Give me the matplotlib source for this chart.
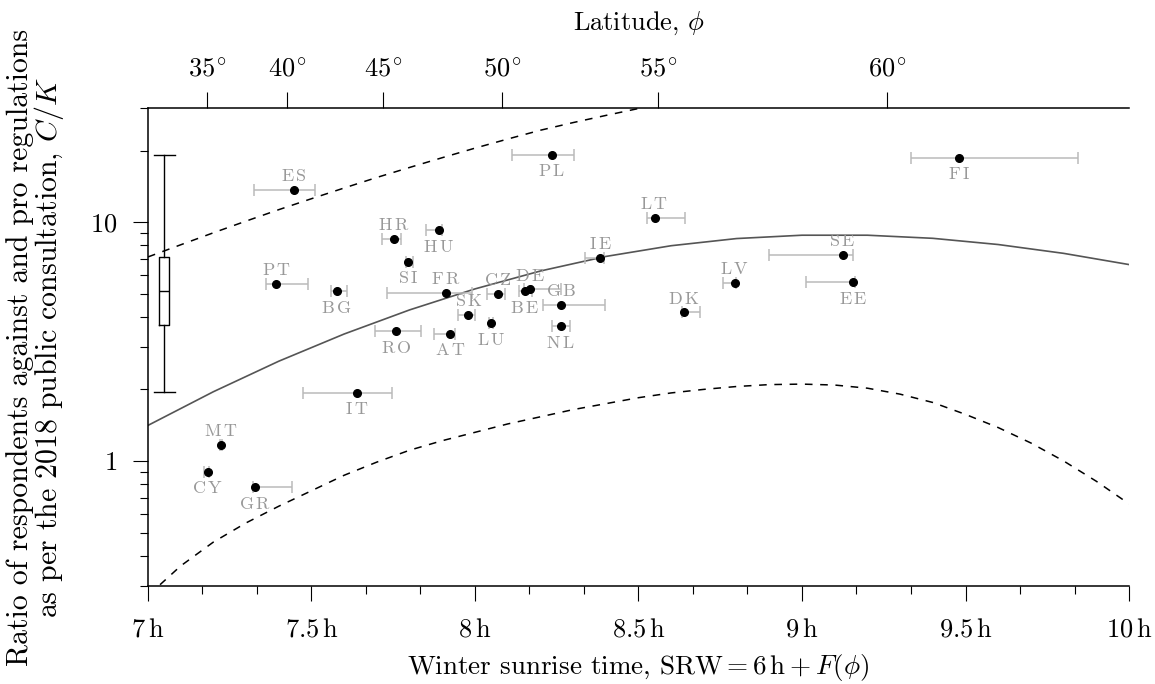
import numpy as np
import matplotlib
matplotlib.use("Agg")
import matplotlib.pyplot as plt
from matplotlib.ticker import MultipleLocator, LogLocator, NullFormatter, NullLocator

plt.rcParams["font.family"] = ["cmr10", "DejaVu Serif"]
plt.rcParams["mathtext.fontset"] = "cm"
plt.rcParams["axes.unicode_minus"] = False
plt.rcParams["axes.formatter.use_mathtext"] = True

# ---- country data ----
codes = ["AT", "BE", "BG", "CY", "CZ", "DE", "DK", "EE", "ES", "FI", "FR", "GB", "GR", "HR",
         "HU", "IE", "IT", "LT", "LU", "LV", "MT", "NL", "PL", "PT", "RO", "SE", "SI", "SK"]
srw = [7.925, 8.153, 7.577, 7.183, 8.071, 8.168, 8.638, 9.156, 7.446, 9.480, 7.911, 8.263, 7.327, 7.752,
       7.889, 8.383, 7.638, 8.549, 8.049, 8.795, 7.223, 8.262, 8.235, 7.392, 7.759, 9.124, 7.795, 7.980]
srw_lo = [7.875, 8.135, 7.559, 7.172, 8.036, 8.150, 8.632, 9.012, 7.324, 9.332, 7.732, 8.209, 7.322, 7.716,
          7.851, 8.336, 7.475, 8.525, 8.044, 8.757, 7.220, 8.237, 8.112, 7.360, 7.695, 8.900, 7.788, 7.947]
srw_hi = [7.940, 8.175, 7.608, 7.186, 8.092, 8.264, 8.688, 9.162, 7.510, 9.845, 7.992, 8.398, 7.439, 7.773,
          7.898, 8.394, 7.746, 8.642, 8.054, 8.798, 7.226, 8.291, 8.303, 7.489, 7.835, 9.155, 7.811, 8.000]
ratio = [3.41, 5.14, 5.16, 0.902, 5.03, 5.23, 4.19, 5.61, 13.65, 18.65, 5.08, 4.51, 0.776, 8.49,
         9.29, 7.09, 1.93, 10.42, 3.79, 5.59, 1.163, 3.66, 19.2, 5.54, 3.50, 7.28, 6.85, 4.08]

# ---- fitted curve and band ----
fit_x = [7.0, 7.2, 7.4, 7.6, 7.8, 8.0, 8.2, 8.4, 8.6, 8.8, 9.0, 9.2, 9.4, 9.6, 9.8, 10.0]
fit_y = [1.409, 1.950, 2.618, 3.404, 4.295, 5.260, 6.252, 7.194, 7.980, 8.551, 8.831, 8.831,
         8.570, 8.072, 7.413, 6.653]
band_hi_x = [7.0, 7.1, 7.2, 7.3, 7.4, 7.5, 7.6, 7.7, 7.8, 7.9, 8.0, 8.1, 8.2, 8.3, 8.4, 8.5, 8.55]
band_hi_y = [7.16, 8.05, 9.04, 10.12, 11.30, 12.56, 13.93, 15.42, 16.98, 18.66, 20.46, 22.34,
             24.32, 26.18, 28.05, 29.99, 30.9]
band_lo_x = [7.037, 7.1, 7.2, 7.3, 7.4, 7.5, 7.6, 7.7, 7.8, 7.9, 8.0, 8.1, 8.2, 8.3, 8.4, 8.5,
             8.6, 8.7, 8.8, 8.9, 9.0, 9.1, 9.2, 9.3, 9.4, 9.5, 9.6, 9.7, 9.8, 9.9, 10.0]
band_lo_y = [0.303, 0.363, 0.457, 0.550, 0.646, 0.750, 0.871, 0.989, 1.109, 1.216, 1.318, 1.429,
             1.531, 1.641, 1.738, 1.841, 1.928, 1.995, 2.051, 2.089, 2.099, 2.080, 2.018, 1.905,
             1.758, 1.567, 1.380, 1.189, 1.0, 0.822, 0.661]

# ---- box plot of all ratios ----
box_stats = dict(med=5.14, q1=3.73, q3=7.16, whislo=1.94, whishi=19.1)

# ---- latitude axis ----
lat_deg = [35, 40, 45, 50, 55, 60]
lat_srw = [7.182, 7.426, 7.720, 8.082, 8.560, 9.259]

below = {"AT", "BE", "BG", "CY", "EE", "FI", "GR", "HU", "IT", "LU", "NL", "PL", "RO", "SI"}

fs = 19

fig = plt.figure(figsize=(11.55, 6.84), dpi=100)
ax = fig.add_axes([0.1281, 0.1437, 0.8494, 0.6977])

ax.plot(fit_x, fit_y, color="#555555", lw=1.2)
ax.plot(band_hi_x, band_hi_y, color="black", lw=1.1, ls=(0, (5, 5)))
ax.plot(band_lo_x, band_lo_y, color="black", lw=1.1, ls=(0, (5, 5)))

x = np.array(srw)
xerr = [x - np.array(srw_lo), np.array(srw_hi) - x]
ax.errorbar(x, ratio, xerr=xerr, fmt="none", ecolor="#bababa", elinewidth=1.1, capsize=4, capthick=1.1)
ax.plot(x, ratio, "o", color="black", ms=5.5, zorder=5)

for c, xi, yi in zip(codes, srw, ratio):
    dy = -12 if c in below else 10
    ax.annotate(r"$\mathrm{%s}$" % r"\,".join(c), (xi, yi), xytext=(0, dy), textcoords="offset points",
                ha="center", va="center", fontsize=13, color="#999999")

st = dict(box_stats, fliers=[])
ax.bxp([st], positions=[7.05], widths=0.031, capwidths=0.064, manage_ticks=False,
       boxprops=dict(color="black", lw=1), whiskerprops=dict(color="black", lw=1),
       capprops=dict(color="black", lw=1), medianprops=dict(color="black", lw=1))

ax.set_xlim(7, 10)
ax.set_yscale("log")
ax.set_ylim(0.3, 30)

xt = np.arange(7, 10.01, 0.5)
ax.set_xticks(xt, labels=[r"$%g\,\mathrm{h}$" % v for v in xt])
ax.xaxis.set_minor_locator(MultipleLocator(1 / 6))
ax.set_yticks([1, 10], labels=[r"$1$", r"$10$"])
ax.yaxis.set_minor_locator(LogLocator(subs=np.arange(2, 10)))
ax.yaxis.set_minor_formatter(NullFormatter())

ax.tick_params(which="major", direction="out", length=11, width=0.8, labelsize=fs, pad=12)
ax.tick_params(which="minor", direction="out", length=5.5, width=0.8)
ax.tick_params(axis="y", which="major", pad=11)
for s in ["left", "bottom"]:
    ax.spines[s].set_linewidth(1.1)
ax.spines["top"].set_visible(False)
ax.spines["right"].set_visible(False)

ax.set_xlabel(r"Winter sunrise time, $\mathrm{SRW} = 6\,\mathrm{h} + F(\phi)$", fontsize=19.5, labelpad=8)
ax.set_ylabel("Ratio of respondents against and pro regulations\n"
              r"as per the 2018 public consultation, $C/K$", fontsize=21.5, labelpad=17,
              linespacing=0.95)

secax = ax.secondary_xaxis("top")
secax.set_xticks(lat_srw, labels=[r"$%d^{\!\circ}$" % d for d in lat_deg])
secax.xaxis.set_minor_locator(NullLocator())
secax.tick_params(direction="out", length=11.5, width=0.8, labelsize=fs, pad=8)
secax.spines["top"].set_linewidth(1.1)
secax.set_xlabel(r"Latitude, $\phi$", fontsize=fs, labelpad=20)

fig.savefig("out.png", dpi=100)
